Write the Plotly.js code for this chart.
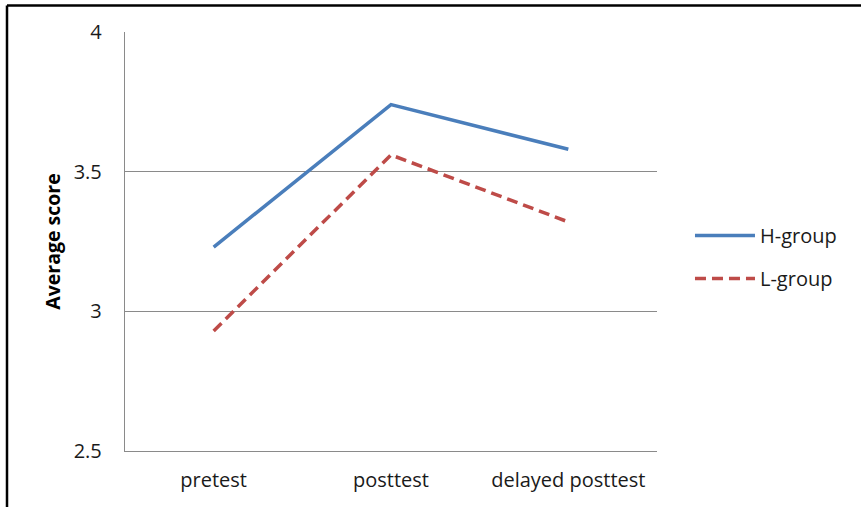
<!DOCTYPE html>
<html><head><meta charset="utf-8">
<script src="https://cdn.plot.ly/plotly-3.0.1.min.js"></script>
<style>html,body{margin:0;padding:0;background:#fff;}#chart{width:861px;height:507px;}</style>
</head><body><div id="chart"></div>
<script>
const categories = ["pretest", "posttest", "delayed posttest"];
const hGroup = [3.23, 3.74, 3.58];
const lGroup = [2.93, 3.56, 3.32];
const seriesNames = ["H-group", "L-group"];
const yTicks = [2.5, 3, 3.5, 4];
const yTickLabels = ["2.5", "3", "3.5", "4"];

const font = "'Open Sans', sans-serif";
const traces = [
  {x: categories, y: hGroup, name: seriesNames[0], type: "scatter", mode: "lines",
   line: {color: "#4A7EBB", width: 3.5}, legendgroup: "h"},
  {x: categories, y: lGroup, name: seriesNames[1], type: "scatter", mode: "lines",
   line: {color: "#BE4B48", width: 3.5, dash: "11px,6px"}, legendgroup: "l"}
];
const layout = {
  width: 861, height: 507,
  margin: {l: 125, r: 204, t: 32, b: 56},
  paper_bgcolor: "#fff", plot_bgcolor: "#fff",
  font: {family: font, size: 20, color: "#000"},
  xaxis: {type: "category", range: [-0.5, 2.5], showgrid: false, zeroline: false,
    showline: true, linecolor: "#8a8a8a", linewidth: 1.2, ticks: "", ticklen: 0,
    ticklabelstandoff: 11, tickfont: {family: font, size: 20, color: "#1a1a1a"}, fixedrange: true},
  yaxis: {range: [2.5, 4], tickvals: yTicks, ticktext: yTickLabels, showgrid: true,
    gridcolor: "#8a8a8a", gridwidth: 1.2, zeroline: false, showline: true,
    linecolor: "#8a8a8a", linewidth: 1.2, ticks: "", ticklen: 0, ticklabelstandoff: 18,
    tickfont: {family: font, size: 20, color: "#1a1a1a"},
    title: {text: "<b>Average score</b>", font: {family: font, size: 19.5}, standoff: 7}},
  showlegend: true,
  legend: {x: 1.062, xanchor: "left", y: 0.463, yanchor: "middle", traceorder: "grouped",
    tracegroupgap: 14, font: {family: font, size: 20, color: "#1a1a1a"}, itemwidth: 60, bgcolor: "rgba(0,0,0,0)"},
  shapes: [
    {type: "line", xref: "paper", yref: "paper", x0: -0.2218, x1: 1.5, y0: 1.0633, y1: 1.0633,
     line: {color: "#000", width: 2.5}},
    {type: "line", xref: "paper", yref: "paper", x0: -0.2218, x1: -0.2218, y0: -0.3, y1: 1.0633,
     line: {color: "#000", width: 2.5}}
  ]
};
Plotly.newPlot("chart", traces, layout, {staticPlot: true, displayModeBar: false});
</script></body></html>
